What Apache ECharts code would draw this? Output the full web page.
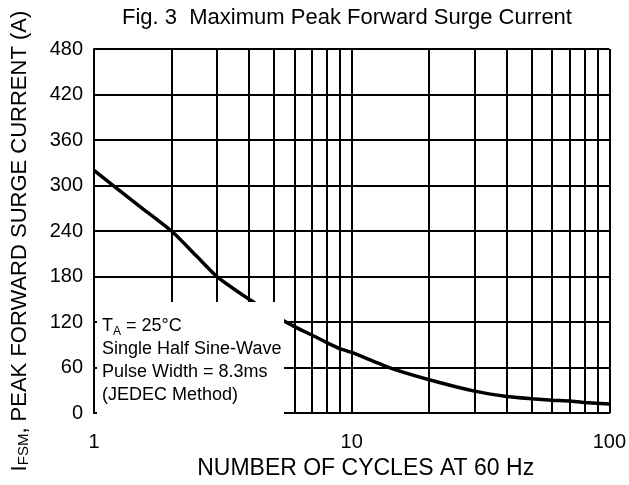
<!DOCTYPE html>
<html>
<head>
<meta charset="utf-8">
<script src="https://cdn.jsdelivr.net/npm/echarts@6/dist/echarts.min.js"></script>
<style>
  html, body { margin: 0; padding: 0; background: #fff; }
  #container { width: 629px; height: 485px; }
</style>
</head>
<body>
<div id="container"></div>
<script>
// cycles (log scale) and surge current
var cycles = [1, 1.5, 2, 2.5, 3, 4, 5, 6, 7, 8, 9, 10, 14, 20, 30, 40, 50, 60, 70, 80, 100];
var current = [320, 273, 240, 207, 180, 150, 129, 114, 103, 93, 85, 80, 60, 44, 29, 22, 19, 17, 16, 14, 12];
var minorLines = [2, 3, 4, 5, 6, 7, 8, 9, 20, 30, 40, 50, 60, 70, 80, 90];
var noteLines = ['Single Half Sine-Wave', 'Pulse Width = 8.3ms', '(JEDEC Method)'];

var font = 'Liberation Sans, Arial, sans-serif';
var dom = document.getElementById('container');
var myChart = echarts.init(dom);

var lineData = cycles.map(function (c, i) { return [c, current[i]]; });
var gridMarks = minorLines.map(function (v) { return { xAxis: v }; });

// note text, first line has the T_A subscript
var noteText = '{t|T}{a|A}{t| = 25°C}\n' + noteLines.map(function (s) { return '{t|' + s + '}'; }).join('\n');

var option = {
    animation: false,
    textStyle: { fontFamily: font, color: '#000' },
    title: {
        text: 'Fig. 3  Maximum Peak Forward Surge Current',
        left: 342,
        top: 2,
        textAlign: 'center',
        textStyle: { fontFamily: font, fontWeight: 'normal', fontSize: 22, color: '#000' }
    },
    grid: { left: 94, right: 13, top: 49, bottom: 63 },
    xAxis: {
        type: 'log',
        logBase: 10,
        min: 1,
        max: 100,
        name: 'NUMBER OF CYCLES AT 60 Hz',
        nameLocation: 'middle',
        nameGap: 38,
        nameTextStyle: { fontFamily: font, fontSize: 23, color: '#000', padding: [0, 0, 0, 28] },
        axisLine: { lineStyle: { color: '#000', width: 2 } },
        axisTick: { show: false },
        axisLabel: { fontFamily: font, fontSize: 20, color: '#000', margin: 19 },
        splitLine: { show: true, lineStyle: { color: '#000', width: 2 } }
    },
    yAxis: {
        type: 'value',
        min: 0,
        max: 480,
        interval: 60,
        name: '{i|I}{s|FSM}{n|, PEAK FORWARD SURGE CURRENT (A)}',
        nameLocation: 'middle',
        nameRotate: 90,
        nameGap: 63,
        nameTextStyle: {
            fontFamily: font,
            color: '#000',
            padding: [0, 20, 0, 0],
            rich: {
                i: { fontFamily: font, fontSize: 22, color: '#000' },
                s: { fontFamily: font, fontSize: 15, color: '#000', verticalAlign: 'bottom', padding: [8, 0, 0, 0] },
                n: { fontFamily: font, fontSize: 22, color: '#000' }
            }
        },
        axisLine: { show: true, lineStyle: { color: '#000', width: 2 } },
        axisTick: { show: false },
        axisLabel: { fontFamily: font, fontSize: 20, color: '#000', margin: 11 },
        splitLine: { show: true, lineStyle: { color: '#000', width: 2 } }
    },
    series: [
        {
            type: 'line',
            data: lineData,
            smooth: 0.2,
            symbol: 'none',
            lineStyle: { color: '#000', width: 3.5 },
            markLine: {
                silent: true,
                symbol: 'none',
                label: { show: false },
                lineStyle: { color: '#000', width: 2, type: 'solid' },
                data: gridMarks
            },
            z: 3
        }
    ],
    graphic: [
        {
            type: 'rect',
            z: 100,
            shape: { x: 97, y: 302, width: 187, height: 116 },
            style: { fill: '#fff' }
        },
        {
            type: 'text',
            z: 101,
            left: 102,
            top: 317,
            style: {
                text: noteText,
                rich: {
                    t: { fontFamily: font, fontSize: 18, lineHeight: 23, fill: '#000' },
                    a: { fontFamily: font, fontSize: 12, lineHeight: 23, fill: '#000', verticalAlign: 'bottom', padding: [8, 0, 0, 0] }
                }
            }
        }
    ]
};

myChart.setOption(option);
</script>
</body>
</html>
